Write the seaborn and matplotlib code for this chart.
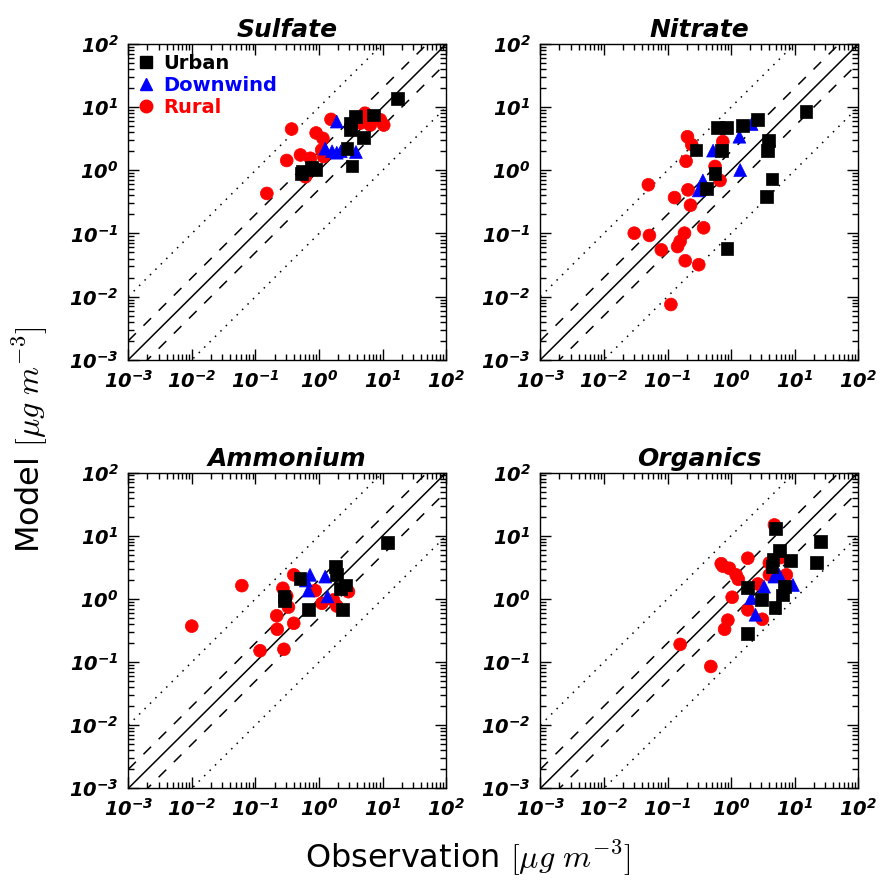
import numpy as np
import pandas as pd
import matplotlib
matplotlib.use("Agg")
import matplotlib.pyplot as plt
from matplotlib.lines import Line2D
from matplotlib.ticker import LogFormatterMathtext, LogLocator
import seaborn as sns

# ---------------- data (observation, model) ----------------
panels = ["Sulfate", "Nitrate", "Ammonium", "Organics"]

sulfate_urban_obs = [16.9, 7.2, 3.7, 3.1, 3.1, 5.0, 2.75, 3.3, 0.54, 0.77, 0.87, 0.53]
sulfate_urban_mod = [13.8, 7.5, 7.1, 5.6, 4.4, 3.3, 2.2, 1.17, 0.95, 1.12, 1.04, 0.88]
sulfate_down_obs = [1.25, 1.6, 1.9, 2.2, 3.8, 1.9]
sulfate_down_mod = [2.2, 2.0, 1.9, 2.0, 1.95, 5.9]
sulfate_rural_obs = [0.151, 0.31, 0.37, 0.51, 0.73, 0.90, 1.15, 0.61, 1.18, 1.54, 5.3, 6.4, 9.2, 10.4, 4.5, 4.0, 1.1]
sulfate_rural_mod = [0.43, 1.43, 4.5, 1.75, 1.55, 3.9, 3.2, 0.79, 1.65, 6.4, 8.0, 5.2, 6.3, 5.2, 5.6, 6.5, 2.1]

nitrate_urban_obs = [15.1, 2.6, 1.53, 0.61, 0.84, 3.9, 3.7, 0.28, 0.70, 0.56, 4.4, 3.6, 0.41, 0.86]
nitrate_urban_mod = [8.6, 6.3, 5.1, 4.8, 4.8, 2.95, 2.05, 2.1, 2.05, 0.90, 0.73, 0.38, 0.51, 0.057]
nitrate_down_obs = [2.1, 1.35, 0.52, 1.39, 0.36, 0.31]
nitrate_down_mod = [5.4, 3.4, 2.05, 1.01, 0.69, 0.48]
nitrate_rural_obs = [0.206, 0.24, 0.74, 0.196, 0.56, 0.67, 0.050, 0.21, 0.129, 0.23,
                     0.37, 0.030, 0.052, 0.185, 0.158, 0.144, 0.080, 0.19, 0.31, 0.113]
nitrate_rural_mod = [3.4, 2.55, 2.85, 1.39, 1.15, 0.69, 0.59, 0.49, 0.37, 0.28,
                     0.123, 0.101, 0.093, 0.101, 0.075, 0.062, 0.055, 0.037, 0.032, 0.0075]

ammonium_urban_obs = [11.9, 1.79, 1.86, 0.50, 2.57, 2.15, 0.29, 0.68, 2.37, 0.28]
ammonium_urban_mod = [7.8, 3.24, 2.4, 2.1, 1.66, 1.47, 0.94, 0.67, 0.67, 1.1]
ammonium_down_obs = [0.72, 1.25, 0.68, 1.36, 0.62]
ammonium_down_mod = [2.4, 2.25, 1.35, 1.09, 1.95]
ammonium_rural_obs = [0.00995, 0.061, 0.40, 0.27, 0.31, 0.33, 0.216, 0.40, 0.22, 0.118,
                      0.28, 0.87, 1.11, 1.9, 2.9, 1.68]
ammonium_rural_mod = [0.37, 1.62, 2.4, 1.47, 1.11, 0.74, 0.54, 0.41, 0.33, 0.151,
                      0.159, 1.35, 0.85, 0.77, 1.30, 0.96]

organics_urban_obs = [4.95, 25.4, 5.8, 4.55, 8.5, 22.0, 4.4, 1.83, 2.98, 6.4, 6.9, 4.9, 1.83]
organics_urban_mod = [13.1, 8.1, 5.8, 4.2, 4.0, 3.75, 3.3, 1.53, 0.99, 1.15, 1.56, 0.74, 0.285]
organics_down_obs = [5.7, 4.8, 9.4, 3.3, 2.07, 2.42]
organics_down_mod = [2.4, 2.25, 1.66, 1.56, 1.02, 0.56]
organics_rural_obs = [4.8, 1.83, 0.70, 0.74, 0.94, 1.2, 1.3, 2.64, 4.0, 7.4, 4.0,
                      1.04, 1.83, 0.89, 0.79, 3.1, 0.158, 0.48, 6.0]
organics_rural_mod = [14.8, 4.4, 3.6, 3.3, 3.05, 2.4, 2.04, 1.72, 2.4, 2.4, 3.7,
                      1.06, 0.67, 0.46, 0.33, 0.475, 0.19, 0.085, 4.5]

sites = ["Urban", "Downwind", "Rural"]
site_colors = {"Urban": "black", "Downwind": "blue", "Rural": "red"}
site_markers = {"Urban": "s", "Downwind": "^", "Rural": "o"}
ticks = [1e-3, 1e-2, 1e-1, 1e0, 1e1, 1e2]

raw = {
    "Sulfate": {"Urban": (sulfate_urban_obs, sulfate_urban_mod),
                "Downwind": (sulfate_down_obs, sulfate_down_mod),
                "Rural": (sulfate_rural_obs, sulfate_rural_mod)},
    "Nitrate": {"Urban": (nitrate_urban_obs, nitrate_urban_mod),
                "Downwind": (nitrate_down_obs, nitrate_down_mod),
                "Rural": (nitrate_rural_obs, nitrate_rural_mod)},
    "Ammonium": {"Urban": (ammonium_urban_obs, ammonium_urban_mod),
                 "Downwind": (ammonium_down_obs, ammonium_down_mod),
                 "Rural": (ammonium_rural_obs, ammonium_rural_mod)},
    "Organics": {"Urban": (organics_urban_obs, organics_urban_mod),
                 "Downwind": (organics_down_obs, organics_down_mod),
                 "Rural": (organics_rural_obs, organics_rural_mod)},
}

rows = []
for p in panels:
    for s in ["Rural", "Downwind", "Urban"]:  # draw order: urban on top
        o, m = raw[p][s]
        for a, b in zip(o, m):
            rows.append({"panel": p, "site": s, "obs": a, "model": b})
df = pd.DataFrame(rows)

# ---------------- style ----------------
sns.set_theme(style="ticks")
plt.rcParams["font.family"] = ["DejaVu Sans"]
plt.rcParams["mathtext.fontset"] = "cm"
plt.rcParams["text.color"] = "black"
plt.rcParams["axes.labelcolor"] = "black"
plt.rcParams["axes.titlecolor"] = "black"
plt.rcParams["xtick.color"] = "black"
plt.rcParams["ytick.color"] = "black"
plt.rcParams["xtick.direction"] = "in"
plt.rcParams["ytick.direction"] = "in"
plt.rcParams["axes.edgecolor"] = "black"
plt.rcParams["axes.linewidth"] = 1.0

fig, axes = plt.subplots(2, 2, figsize=(8.8, 8.83), dpi=100)
fig.subplots_adjust(left=0.1458, right=0.9753, bottom=0.1072, top=0.9502,
                    wspace=0.296, hspace=0.357)

ref = np.array([1e-3, 1e2])
for ax, p in zip(axes.flat, panels):
    sub = df[df["panel"] == p]
    # reference lines: 1:1, factor 2, factor 10
    ax.plot(ref, ref, color="black", lw=1.1, zorder=1)
    for f in (2.0, 0.5):
        ax.plot(ref, ref * f, color="black", lw=1.1, ls=(0, (7, 7)), zorder=1)
    for f in (10.0, 0.1):
        ax.plot(ref, ref * f, color="black", lw=1.1, ls=(0, (1, 4)), zorder=1)
    sns.scatterplot(data=sub, x="obs", y="model", hue="site", style="site",
                    palette=site_colors, markers=site_markers, s=85,
                    linewidth=0.5, edgecolor=None, legend=False, ax=ax, zorder=3)
    coll = ax.collections[-1]
    coll.set_edgecolors(coll.get_facecolors())
    ax.set_xscale("log")
    ax.set_yscale("log")
    ax.set_xlim(1e-3, 1e2)
    ax.set_ylim(1e-3, 1e2)
    ax.set_xticks(ticks)
    ax.set_yticks(ticks)
    ax.xaxis.set_minor_locator(LogLocator(base=10, subs=np.arange(2, 10)))
    ax.yaxis.set_minor_locator(LogLocator(base=10, subs=np.arange(2, 10)))
    ax.xaxis.set_major_formatter(LogFormatterMathtext())
    ax.yaxis.set_major_formatter(LogFormatterMathtext())
    ax.tick_params(which="major", direction="in", length=8, width=1,
                   top=True, right=True, pad=7, labelsize=14, colors="black")
    ax.tick_params(which="minor", direction="in", length=4, width=1,
                   top=True, right=True, colors="black")
    for lab in ax.get_xticklabels() + ax.get_yticklabels():
        lab.set_fontweight("bold")
        lab.set_fontstyle("italic")
    ax.set_xlabel("")
    ax.set_ylabel("")
    ax.set_title(p, fontsize=18, fontweight="bold", fontstyle="italic", pad=5,
                 color="black")
    for sp in ax.spines.values():
        sp.set_visible(True)
        sp.set_color("black")

# legend in first panel
handles = [Line2D([], [], ls="none", marker=site_markers[s], color=site_colors[s],
                  markersize=9) for s in sites]
leg = axes[0, 0].legend(handles, sites, loc="upper left", frameon=False,
                        prop={"weight": "bold", "size": 14}, handlelength=0.8,
                        handletextpad=0.5, labelspacing=0.15, borderaxespad=0.2,
                        borderpad=0.3)
for t, s in zip(leg.get_texts(), sites):
    t.set_color(site_colors[s])

fig.text(0.532, 0.028, r"Observation $[\mu g\ m^{-3}]$", ha="center", va="center",
         fontsize=23, color="black")
fig.text(0.034, 0.502, r"Model $[\mu g\ m^{-3}]$", ha="center", va="center",
         rotation=90, fontsize=23, color="black")

fig.savefig("out.png", dpi=100)
